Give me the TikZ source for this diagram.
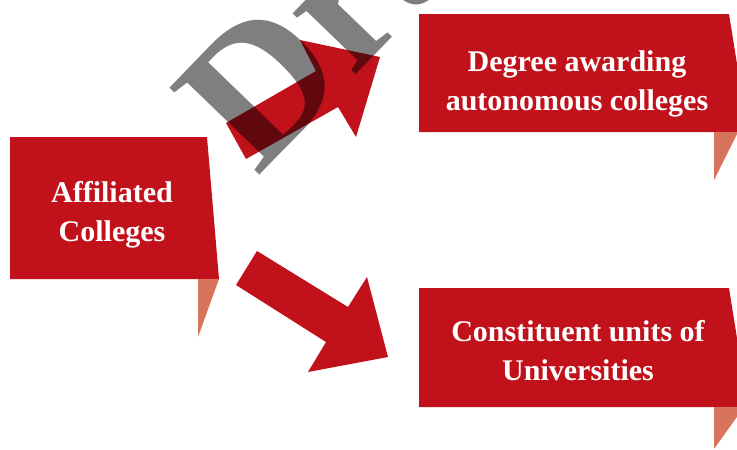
\documentclass[tikz,border=0pt]{standalone}
\usepackage{fontspec}
\setmainfont{Liberation Serif}
\definecolor{boxred}{RGB}{193,18,28}
\definecolor{tailred}{RGB}{217,116,92}

\begin{document}
\begin{tikzpicture}[x=1pt,y=-1pt,
    box/.style={fill=boxred},
    tail/.style={fill=tailred},
    boxtext/.style={text=white,align=center,inner sep=0pt,font=\fontsize{30}{39}\selectfont\bfseries}]
                \useasboundingbox (0,0) rectangle (737,450);
                \clip (0,0) rectangle (737,450);
                % left box
                \fill[box] (10,137) -- (207,137) -- (219,279) -- (10,279) -- cycle;
                \fill[tail] (198,279) -- (219,279) -- (198,337) -- cycle;
                \node[boxtext] (affiliated) at (112,215) {Affiliated\\Colleges};
                % upper right box
                \fill[box] (419,14) -- (729,14) -- (748,132) -- (419,132) -- cycle;
                \fill[tail] (714,132) -- (738,132) -- (714,180) -- cycle;
                \node[boxtext] (degree) at (577,84) {Degree awarding\\autonomous colleges};
                % lower right box
                \fill[box] (419,288) -- (729,288) -- (748,407) -- (419,407) -- cycle;
                \fill[tail] (714,407) -- (744,407) -- (714,449) -- cycle;
                \node[boxtext] (constituent) at (578,351) {Constituent units of\\Universities};
                % arrows
                \fill[box] (226,123) -- (316,71) -- (300,40) -- (380,57) -- (356,137) -- (338,107) -- (246,159) -- cycle;
                \fill[box] (257,251) -- (348,307) -- (367,277) -- (388,357) -- (308,372) -- (326,342) -- (236,285) -- cycle;
                % watermark
                \node[rotate=46,anchor=base west,inner sep=0pt,text=black,opacity=0.5,font=\fontsize{191}{191}\selectfont\bfseries] (draft) at (257,178) {Draft};
            \end{tikzpicture}
\end{document}
